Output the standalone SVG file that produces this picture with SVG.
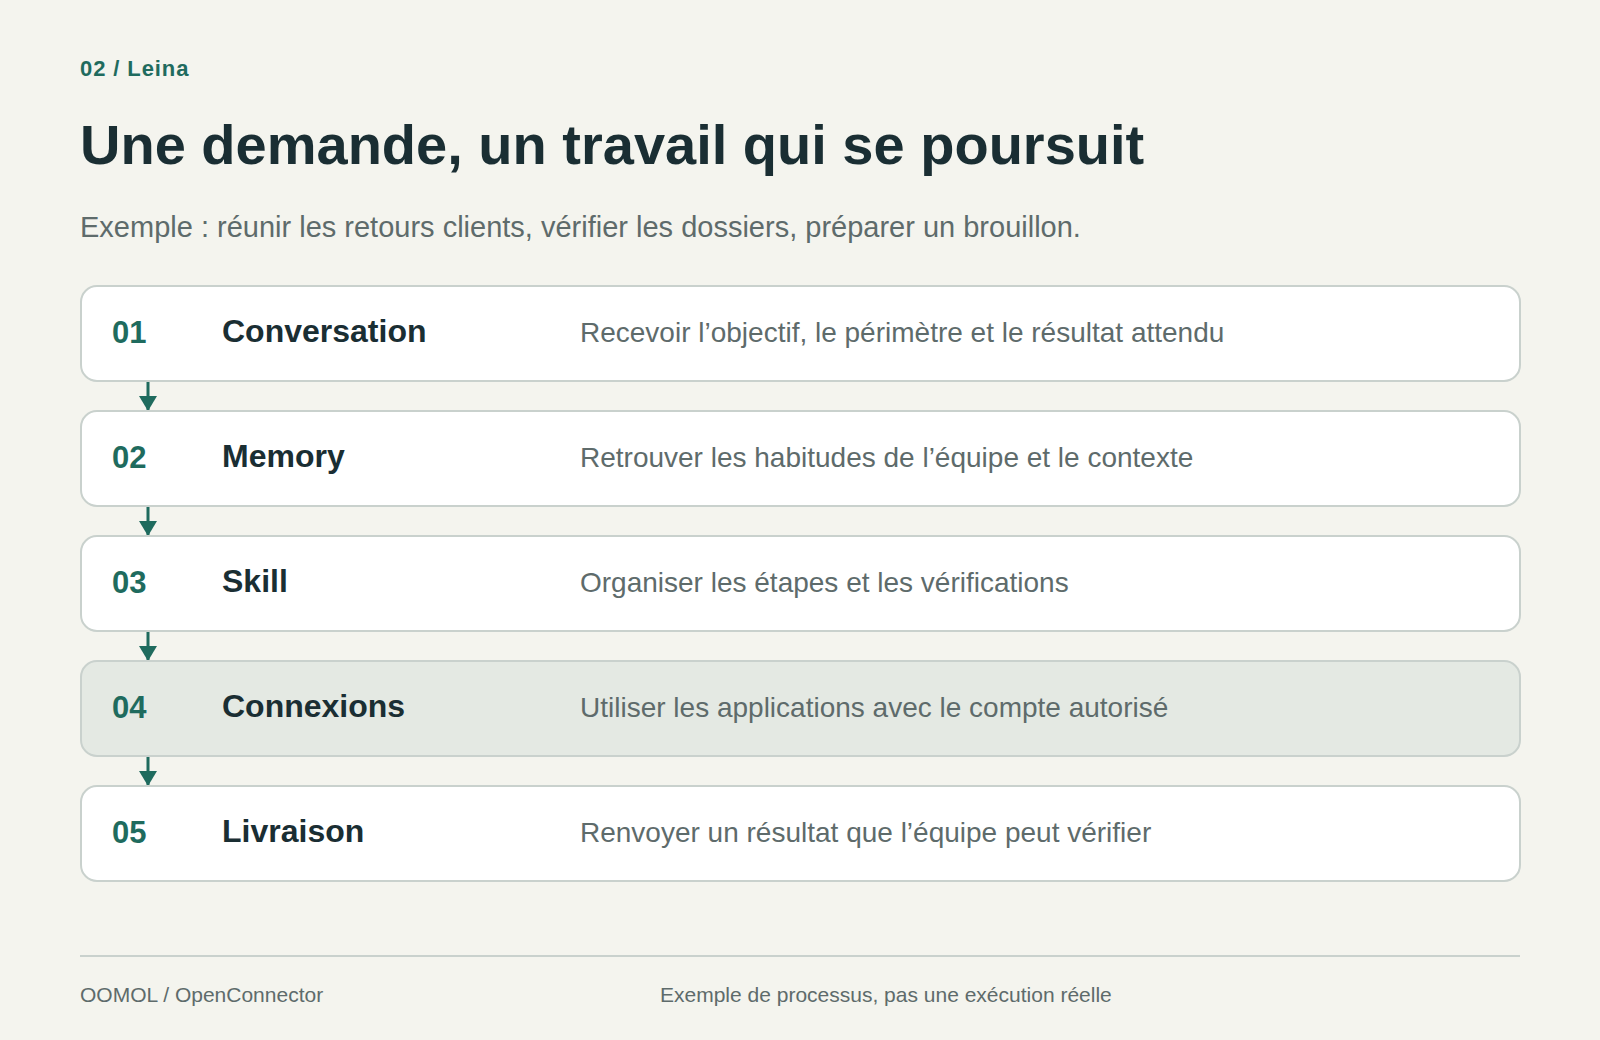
<svg xmlns="http://www.w3.org/2000/svg" width="1600" height="1040" viewBox="0 0 1600 1040">
<defs>
<style>
text{font-family:"Liberation Sans",Arial,Helvetica,sans-serif;}
.eyebrow{font-size:22px;font-weight:700;fill:#1f6b5e;letter-spacing:0.9px;}
.title{font-size:56px;font-weight:700;fill:#1a2e33;}
.sub{font-size:29px;fill:#5e6b6b;}
.card{fill:#ffffff;stroke:#c9d1cd;stroke-width:2;}
.card.hl{fill:#e4e9e3;}
.num{font-size:31px;font-weight:700;fill:#1f6b5e;}
.name{font-size:32px;font-weight:700;fill:#1a2e33;}
.desc{font-size:28px;fill:#5e6b6b;}
.foot{font-size:21px;fill:#5e6b6b;}
.conn{stroke:#1f6b5e;stroke-width:3;fill:none;}
</style>
<marker id="arr" viewBox="0 0 15 18" refX="15" refY="9" markerWidth="15" markerHeight="18" markerUnits="userSpaceOnUse" orient="auto">
<path d="M0,0 L15,9 L0,18 Z" fill="#1f6b5e"/>
</marker>
</defs>
<rect x="0" y="0" width="1600" height="1040" fill="#f4f4ee"/>
<text class="eyebrow" x="80" y="76">02 / Leina</text>
<text class="title" x="80" y="164">Une demande, un travail qui se poursuit</text>
<text class="sub" x="80" y="236.5">Exemple : réunir les retours clients, vérifier les dossiers, préparer un brouillon.</text>
<g id="connectors">
<line class="conn" x1="148" y1="381" x2="148" y2="411" marker-end="url(#arr)"/>
<line class="conn" x1="148" y1="506" x2="148" y2="536" marker-end="url(#arr)"/>
<line class="conn" x1="148" y1="631" x2="148" y2="661" marker-end="url(#arr)"/>
<line class="conn" x1="148" y1="756" x2="148" y2="786" marker-end="url(#arr)"/>
</g>
<g id="step1">
<rect class="card" x="81" y="286" width="1439" height="95" rx="16"/>
<text class="num" x="112" y="342.5">01</text>
<text class="name" x="222" y="342">Conversation</text>
<text class="desc" x="580" y="341.5">Recevoir l’objectif, le périmètre et le résultat attendu</text>
</g>
<g id="step2">
<rect class="card" x="81" y="411" width="1439" height="95" rx="16"/>
<text class="num" x="112" y="467.5">02</text>
<text class="name" x="222" y="467">Memory</text>
<text class="desc" x="580" y="466.5">Retrouver les habitudes de l’équipe et le contexte</text>
</g>
<g id="step3">
<rect class="card" x="81" y="536" width="1439" height="95" rx="16"/>
<text class="num" x="112" y="592.5">03</text>
<text class="name" x="222" y="592">Skill</text>
<text class="desc" x="580" y="591.5">Organiser les étapes et les vérifications</text>
</g>
<g id="step4">
<rect class="card hl" x="81" y="661" width="1439" height="95" rx="16"/>
<text class="num" x="112" y="717.5">04</text>
<text class="name" x="222" y="717">Connexions</text>
<text class="desc" x="580" y="716.5">Utiliser les applications avec le compte autorisé</text>
</g>
<g id="step5">
<rect class="card" x="81" y="786" width="1439" height="95" rx="16"/>
<text class="num" x="112" y="842.5">05</text>
<text class="name" x="222" y="842">Livraison</text>
<text class="desc" x="580" y="841.5">Renvoyer un résultat que l’équipe peut vérifier</text>
</g>
<line x1="80" y1="956" x2="1520" y2="956" stroke="#c9d1cd" stroke-width="2"/>
<text class="foot" x="80" y="1002">OOMOL / OpenConnector</text>
<text class="foot" x="660" y="1002">Exemple de processus, pas une exécution réelle</text>
</svg>
